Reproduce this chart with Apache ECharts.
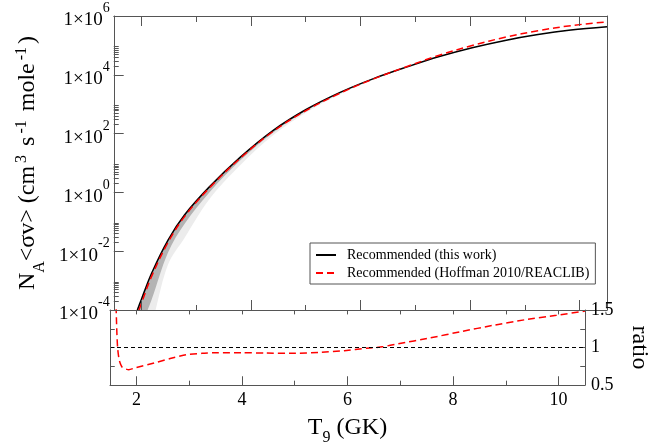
<!DOCTYPE html>
<html>
<head>
<meta charset="utf-8">
<script src="https://cdn.jsdelivr.net/npm/echarts@6/dist/echarts.min.js"></script>
<style>
html, body { margin: 0; padding: 0; background: #fff; }
#chart { width: 659px; height: 447px; }
</style>
</head>
<body>
<div id="chart"></div>
<script>
// temperature grid (T9) for the rate curves
var tempsThisWork = [1.93, 2.0, 2.19, 2.49, 2.79, 3.24, 3.81, 4.41, 5.01, 5.64, 6.24, 6.84, 7.44, 8.04, 8.64, 9.24, 9.84, 10.5];
var rateThisWork  = [1.0e-4, 2.2e-4, 1.78e-3, 2.4e-2, 0.17, 1.51, 15.8, 129, 661, 2570, 7410, 18200, 41700, 83200, 148000, 234000, 331000, 427000];
// uncertainty band, lower edges (upper edge = recommended rate)
var bandDarkLow   = [1.0e-5, 2.75e-5, 2.24e-4, 9.1e-3, 8.5e-2, 0.98, 12.3, 110, 603, 2400, 7160, 17800, 40700, 81300, 145000, 229000, 324000, 417000];
var bandLightLow  = [2.5e-6, 6.9e-6, 3.5e-5, 3.5e-3, 2.8e-2, 0.575, 8.5, 89, 525, 2240, 6920, 17800, 40700, 81300, 145000, 229000, 324000, 417000];

var tempsHoffman = [1.96, 2.0, 2.19, 2.49, 2.79, 3.24, 3.81, 4.41, 5.01, 5.64, 6.24, 6.84, 7.44, 8.04, 8.64, 9.24, 9.84, 10.5];
var rateHoffman  = [1.0e-4, 1.6e-4, 1.39e-3, 2.0e-2, 0.15, 1.39, 14.7, 120, 610, 2420, 7260, 18800, 46300, 99400, 189000, 317000, 470000, 634000];

var tempsRatio  = [1.615, 1.63, 1.645, 1.676, 1.735, 1.856, 2.0, 2.34, 2.64, 2.94, 3.24, 3.54, 4.0, 4.44, 4.98, 5.46, 5.94, 6.36, 6.66, 6.96, 7.56, 8.16, 8.76, 9.36, 9.96, 10.5];
var ratioValues = [1.55, 1.2, 0.99, 0.83, 0.735, 0.705, 0.735, 0.795, 0.853, 0.903, 0.923, 0.931, 0.931, 0.927, 0.923, 0.935, 0.959, 0.99, 1.01, 1.05, 1.127, 1.214, 1.296, 1.37, 1.43, 1.485];

var xTickLabels = [2, 4, 6, 8, 10];
var xMinorTicks = [3, 5, 7, 9];
var yTickLabels = [1e-4, 1e-2, 1, 1e2, 1e4, 1e6];
var ratioTickLabels = [0.5, 1, 1.5];
var ratioInnerTicks = [0.75, 1, 1.25];

var FONT = '"Liberation Serif", "DejaVu Serif", serif';
var AXIS_COLOR = '#555';
var T_MIN = 1.5, T_MAX = 10.5;
var Y_MIN = 1e-4, Y_MAX = 1e6;
var R_MIN = 0.5, R_MAX = 1.5;
// pixel scales of the two panels, used only to give ticks a length in px
var PX_PER_T = 497 / 9, PX_PER_DEC = 294 / 10, PX_PER_R = 85;
// keep tick ends a hair inside the axis ends
var EPS = 1e-4;
var Y_LO = Y_MIN * (1 + EPS), Y_HI = Y_MAX * (1 - EPS);
var R_LO = R_MIN + EPS, R_HI = R_MAX - EPS;
var SKEW = 1e-6;
var TICK_STYLE = { color: AXIS_COLOR, width: 1, type: 'solid', opacity: 1 };

function pairs(xs, ys) {
    return xs.map(function (x, i) { return [x, ys[i]]; });
}
function seg(a, b) {
    return [{ coord: a, lineStyle: TICK_STYLE }, { coord: b }];
}
// vertical tick: second end nudged so both ends never share the same x
function vseg(t, y0, y1) {
    return seg([t, y0], [t + SKEW, y1]);
}
function decUp(v, px) { return v * Math.pow(10, px / PX_PER_DEC); }
function decDown(v, px) { return v / Math.pow(10, px / PX_PER_DEC); }

// short ticks at 2..9 x 10^k for the labelled decades, like the original plot
var logMinorTicks = [];
[-4, -2, 0, 2, 4].forEach(function (k) {
    for (var m = 2; m <= 9; m++) logMinorTicks.push(m * Math.pow(10, k));
});

// top panel, left frame ticks
var topSideTicks = [];
yTickLabels.slice(1, -1).forEach(function (v) {
    topSideTicks.push(seg([T_MIN, v], [T_MIN + 10 / PX_PER_T, v]));
});
logMinorTicks.forEach(function (v) {
    topSideTicks.push(seg([T_MIN, v], [T_MIN + 5 / PX_PER_T, v]));
});

// top panel, bottom and top frame ticks
var topEdgeTicks = [];
xTickLabels.forEach(function (t) {
    topEdgeTicks.push(vseg(t, Y_LO, decUp(Y_MIN, 10)));
    topEdgeTicks.push(vseg(t, Y_HI, decDown(Y_MAX, 10)));
});
xMinorTicks.forEach(function (t) {
    topEdgeTicks.push(vseg(t, Y_LO, decUp(Y_MIN, 5)));
    topEdgeTicks.push(vseg(t, Y_HI, decDown(Y_MAX, 6)));
});

// ratio panel, side ticks and dashed line at ratio = 1
var ratioSideTicks = [];
ratioInnerTicks.forEach(function (r) {
    ratioSideTicks.push(seg([T_MIN, r], [T_MIN + 5 / PX_PER_T, r]));
    ratioSideTicks.push(seg([T_MAX, r], [T_MAX - 5 / PX_PER_T, r]));
});
ratioSideTicks.push([
    { coord: [T_MIN, 1], lineStyle: { color: '#000', width: 1, type: [4, 3] } },
    { coord: [T_MAX, 1] }
]);

// ratio panel, top and bottom frame ticks
var ratioEdgeTicks = [];
xTickLabels.concat(xMinorTicks).forEach(function (t) {
    ratioEdgeTicks.push(vseg(t, R_HI, R_MAX - 5 / PX_PER_R));
});
xTickLabels.forEach(function (t) {
    ratioEdgeTicks.push(vseg(t, R_LO, R_MIN + 10 / PX_PER_R));
});
xMinorTicks.forEach(function (t) {
    ratioEdgeTicks.push(vseg(t, R_LO, R_MIN + 5 / PX_PER_R));
});

function ticksMarkLine(data) {
    return {
        silent: true, symbol: 'none', label: { show: false }, animation: false,
        lineStyle: TICK_STYLE, data: data
    };
}

function xAx(grid, pos) {
    return {
        type: 'value', gridIndex: grid, position: pos, min: T_MIN, max: T_MAX, z: 5,
        axisLine: { show: true, onZero: false, lineStyle: { color: AXIS_COLOR, width: 1 } },
        axisTick: { show: false },
        axisLabel: { show: false },
        splitLine: { show: false }
    };
}

var xBottom = xAx(1, 'bottom');
xBottom.axisLabel = { show: true, customValues: xTickLabels, fontFamily: FONT, fontSize: 18, color: '#000', margin: 6 };
xBottom.name = '{m|T}{b|9}{m| (GK)}';
xBottom.nameLocation = 'middle';
xBottom.nameGap = 15;
xBottom.nameTextStyle = {
    fontFamily: FONT, color: '#000',
    rich: {
        m: { fontFamily: FONT, fontSize: 24, lineHeight: 24, verticalAlign: 'middle', color: '#000' },
        b: { fontFamily: FONT, fontSize: 16, lineHeight: 16, verticalAlign: 'middle', padding: [20, 0, 0, 0], color: '#000' }
    }
};

var xAxes = [xAx(0, 'bottom'), xAx(0, 'top'), xBottom, xAx(1, 'top')];

var yAxes = [
    {
        type: 'log', logBase: 10, gridIndex: 0, position: 'left', min: Y_MIN, max: Y_MAX, z: 5,
        axisLine: { show: true, onZero: false, lineStyle: { color: AXIS_COLOR, width: 1 } },
        axisTick: { show: false },
        axisLabel: {
            show: true, customValues: yTickLabels, margin: 4,
            formatter: function (v) {
                var e = Math.round(Math.log(v) / Math.LN10);
                return '{m|1×10}{s|' + e + '}';
            },
            rich: {
                m: { fontFamily: FONT, fontSize: 19, lineHeight: 19, verticalAlign: 'middle', padding: [9, 0, 0, 0], color: '#000' },
                s: { fontFamily: FONT, fontSize: 14, lineHeight: 14, verticalAlign: 'middle', padding: [0, 0, 15, 0], color: '#000' }
            }
        },
        splitLine: { show: false },
        name: '{m|N}{b|A}{m|<σv> (cm}{p|3}{m| s}{p|-1}{m| mole}{p|-1}{m|)}',
        nameLocation: 'middle',
        nameGap: 64,
        nameTextStyle: {
            fontFamily: FONT, color: '#000',
            rich: {
                m: { fontFamily: FONT, fontSize: 24, lineHeight: 24, verticalAlign: 'middle', color: '#000' },
                b: { fontFamily: FONT, fontSize: 16, lineHeight: 16, verticalAlign: 'middle', padding: [24, 0, 0, 0], color: '#000' },
                p: { fontFamily: FONT, fontSize: 16, lineHeight: 16, verticalAlign: 'middle', padding: [0, 3, 12, 3], color: '#000' }
            }
        }
    },
    {
        type: 'log', logBase: 10, gridIndex: 0, position: 'right', min: Y_MIN, max: Y_MAX, z: 5,
        axisLine: { show: true, onZero: false, lineStyle: { color: AXIS_COLOR, width: 1 } },
        axisTick: { show: false },
        axisLabel: { show: false },
        splitLine: { show: false }
    },
    {
        type: 'value', gridIndex: 1, position: 'left', min: R_MIN, max: R_MAX, interval: 0.25, z: 5,
        axisLine: { show: true, onZero: false, lineStyle: { color: AXIS_COLOR, width: 1 } },
        axisTick: { show: false },
        axisLabel: { show: false },
        splitLine: { show: false }
    },
    {
        type: 'value', gridIndex: 1, position: 'right', min: R_MIN, max: R_MAX, interval: 0.25, z: 5,
        axisLine: { show: true, onZero: false, lineStyle: { color: AXIS_COLOR, width: 1 } },
        axisTick: { show: false },
        axisLabel: { show: true, customValues: ratioTickLabels, align: 'left', fontFamily: FONT, fontSize: 18, color: '#000', margin: 6 },
        splitLine: { show: false },
        name: 'ratio',
        nameLocation: 'middle',
        nameRotate: -90,
        nameGap: 42,
        nameTextStyle: { fontFamily: FONT, fontSize: 24, color: '#000' }
    }
];

function area(name, xs, ys, color) {
    return {
        name: name, type: 'line', xAxisIndex: 0, yAxisIndex: 0,
        data: pairs(xs, ys), symbol: 'none', smooth: 0.35,
        lineStyle: { width: 0 }, areaStyle: { color: color, opacity: 1 },
        silent: true, z: 1
    };
}

var chart = echarts.init(document.getElementById('chart'));
chart.setOption({
    animation: false,
    backgroundColor: '#fff',
    grid: [
        { left: 110, top: 16, width: 497, height: 294 },
        { left: 110, top: 310, width: 497, height: 85 }
    ],
    legend: {
        data: ['Recommended (this work)', 'Recommended (Hoffman 2010/REACLIB)'],
        orient: 'vertical', left: 310, top: 243,
        padding: [5, 6, 4, 5], itemWidth: 20, itemHeight: 14, itemGap: 4,
        backgroundColor: '#fff', borderColor: AXIS_COLOR, borderWidth: 1,
        textStyle: { fontFamily: FONT, fontSize: 14, color: '#000', padding: [0, 0, 0, 6] }
    },
    xAxis: xAxes,
    yAxis: yAxes,
    series: [
        area('bandDark', tempsThisWork, rateThisWork, '#b3b3b3'),
        area('bandLight', tempsThisWork, bandDarkLow, '#ececec'),
        area('bandClear', tempsThisWork, bandLightLow, '#ffffff'),
        {
            name: 'Recommended (this work)', type: 'line', xAxisIndex: 0, yAxisIndex: 0,
            data: pairs(tempsThisWork, rateThisWork), symbol: 'none', smooth: 0.35,
            lineStyle: { color: '#000', width: 1.5 }, itemStyle: { color: 'rgba(0,0,0,0)', borderWidth: 0 }, z: 3,
            markLine: ticksMarkLine(topSideTicks)
        },
        {
            name: 'Recommended (Hoffman 2010/REACLIB)', type: 'line', xAxisIndex: 0, yAxisIndex: 0,
            data: pairs(tempsHoffman, rateHoffman), symbol: 'none', smooth: 0.35,
            lineStyle: { color: '#ff0000', width: 1.5, type: [7, 4] }, itemStyle: { color: 'rgba(0,0,0,0)', borderWidth: 0 }, z: 3,
            markLine: ticksMarkLine(topEdgeTicks)
        },
        {
            name: 'ratio', type: 'line', xAxisIndex: 2, yAxisIndex: 3,
            data: pairs(tempsRatio, ratioValues), symbol: 'none', smooth: 0.2,
            lineStyle: { color: '#ff0000', width: 1.5, type: [7, 4] }, itemStyle: { color: '#ff0000' }, z: 3,
            markLine: ticksMarkLine(ratioSideTicks)
        },
        {
            name: 'ratioFrame', type: 'line', xAxisIndex: 2, yAxisIndex: 3,
            data: pairs(tempsRatio, ratioValues), symbol: 'none', silent: true,
            lineStyle: { opacity: 0, width: 0 }, z: 3,
            markLine: ticksMarkLine(ratioEdgeTicks)
        }
    ]
});
</script>
</body>
</html>
